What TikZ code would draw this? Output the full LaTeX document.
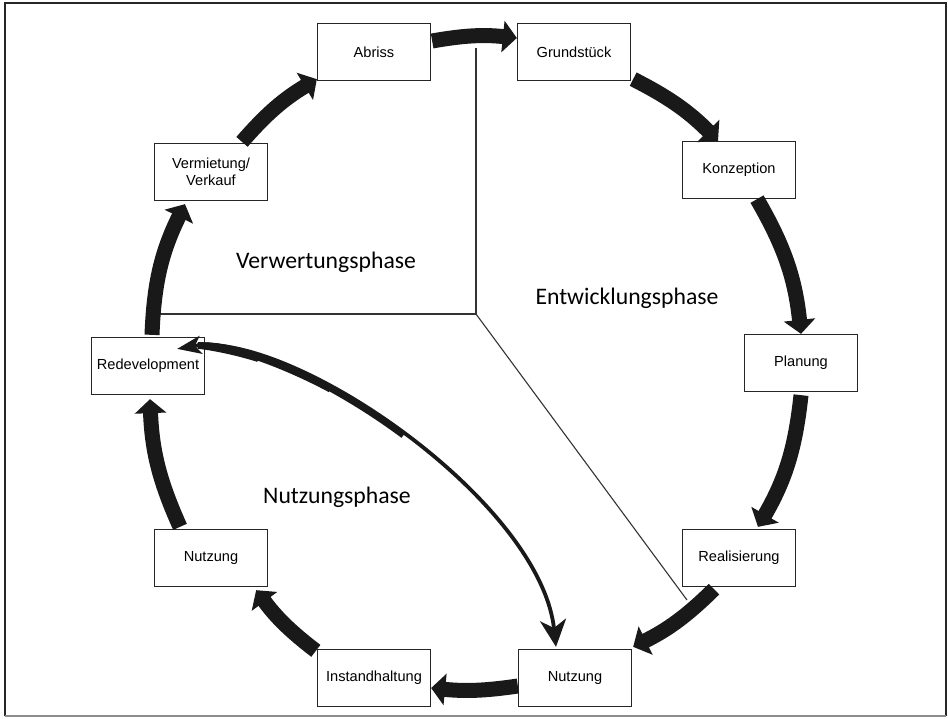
\documentclass[tikz,border=0pt]{standalone}
\usepackage{fontspec}
\setmainfont{Liberation Sans}
\newfontfamily\phasefont{Carlito}
\usetikzlibrary{arrows.meta}
\begin{document}
\begin{tikzpicture}[x=1pt,y=-1pt,
  stage/.style={draw=black!85, line width=1.3pt, fill=white,
    minimum width=113pt, minimum height=57pt, inner sep=2pt,
    align=center, font=\fontsize{14.6}{17.3}\selectfont},
  cyclearrow/.style={line width=15pt, draw=black!90,
    -{Triangle[length=14pt,width=31pt]}},
  phase/.style={font=\phasefont\fontsize{23.7}{28}\selectfont},
  divider/.style={line width=1.1pt, draw=black!80},
  taper/.style={draw=black!90, shorten <=21pt},
]
\useasboundingbox (0,0) rectangle (948,718);

% outer frame
\draw[line width=1.8pt, black!85] (5,716) -- (5,3) -- (946,3) -- (946,716);
\draw[line width=1.2pt, black!45] (5,716) -- (946,716);

% phase dividers
\coordinate (hub) at (476,314);
\coordinate (topend) at (476,48);
\coordinate (leftend) at (160,314);
\coordinate (diagend) at (687,600);
\draw[divider] (topend) -- (hub) -- (leftend);
\draw[divider] (hub) -- (diagend);

% phase labels
\node[phase] at (326,262) {Verwertungsphase};
\node[phase] at (627,298) {Entwicklungsphase};
\node[phase] at (337,497) {Nutzungsphase};

% stages of the life cycle
\node[stage] (abriss) at (374,52)  {Abriss};
\node[stage] (grund)  at (574,52)  {Grundstück};
\node[stage] (konz)   at (739,170) {Konzeption};
\node[stage] (plan)   at (801,363) {Planung};
\node[stage] (real)   at (739,558) {Realisierung};
\node[stage] (nutzR)  at (575,678) {Nutzung};
\node[stage] (inst)   at (374,678) {Instandhaltung};
\node[stage] (nutzL)  at (211,558) {Nutzung};
\node[stage] (redev)  at (148,366) {Redevelopment};
\node[stage] (verm)   at (211,172) {Vermietung/\\Verkauf};

% clockwise cycle arrows
\draw[cyclearrow] ([xshift=1pt,yshift=11pt]abriss.east) to[bend left=8] ([yshift=14pt]grund.west);
\draw[cyclearrow] ([xshift=2pt,yshift=2pt]grund.south east) to[bend left=9] ([xshift=-21pt]konz.north);
\draw[cyclearrow] ([xshift=18pt]konz.south) to[bend left=12] (plan.north);
\draw[cyclearrow] ([yshift=-3pt]plan.south) to[bend left=12] ([xshift=19pt,yshift=2pt]real.north);
\draw[cyclearrow] ([xshift=-25pt,yshift=-2pt]real.south) to[bend left=9] ([xshift=1pt,yshift=2pt]nutzR.north east);
\draw[cyclearrow] ([yshift=-8pt]nutzR.west) to[bend left=7] ([yshift=-10pt]inst.east);
\draw[cyclearrow] ([xshift=-1pt,yshift=-2pt]inst.north west) to[bend left=8] ([xshift=-12pt,yshift=-3pt]nutzL.south east);
\draw[cyclearrow] ([xshift=-31pt,yshift=2pt]nutzL.north) to[bend left=11] ([xshift=2pt,yshift=-4pt]redev.south);
\draw[cyclearrow] ([xshift=4pt,yshift=2pt]redev.north) to[bend left=12] ([xshift=-26pt,yshift=-3pt]verm.south);
\draw[cyclearrow] ([xshift=31pt,yshift=1pt]verm.north) to[bend left=9] ([yshift=2pt]abriss.south west);

% link between the use stage and redevelopment, thicker towards redevelopment
\coordinate (linkstart) at ([xshift=-28pt,yshift=-12pt]redev.north east);
\draw[line width=3.8pt, draw=black!90,
  {Stealth[length=24pt,width=18pt,inset=6pt]}-{Stealth[length=27pt,width=26pt,inset=8pt]}]
  (linkstart) .. controls (290,330) and (540,500) ..
  ([xshift=-19pt,yshift=2pt]nutzR.north);
\coordinate (linkA) at (402.9,435.9);
\coordinate (linkB) at (330.1,389.5);
\coordinate (linkC) at (258.3,358.6);
\draw[taper, line width=4.8pt] (linkstart) .. controls (233.5,339.5) and (324.3,377.3) .. (linkA);
\draw[taper, line width=5.8pt] (linkstart) .. controls (216.6,342.4) and (272.9,358.9) .. (linkB);
\draw[taper, line width=6.8pt] (linkstart) .. controls (199.6,345.2) and (227.7,349.0) .. (linkC);
\end{tikzpicture}
\end{document}
